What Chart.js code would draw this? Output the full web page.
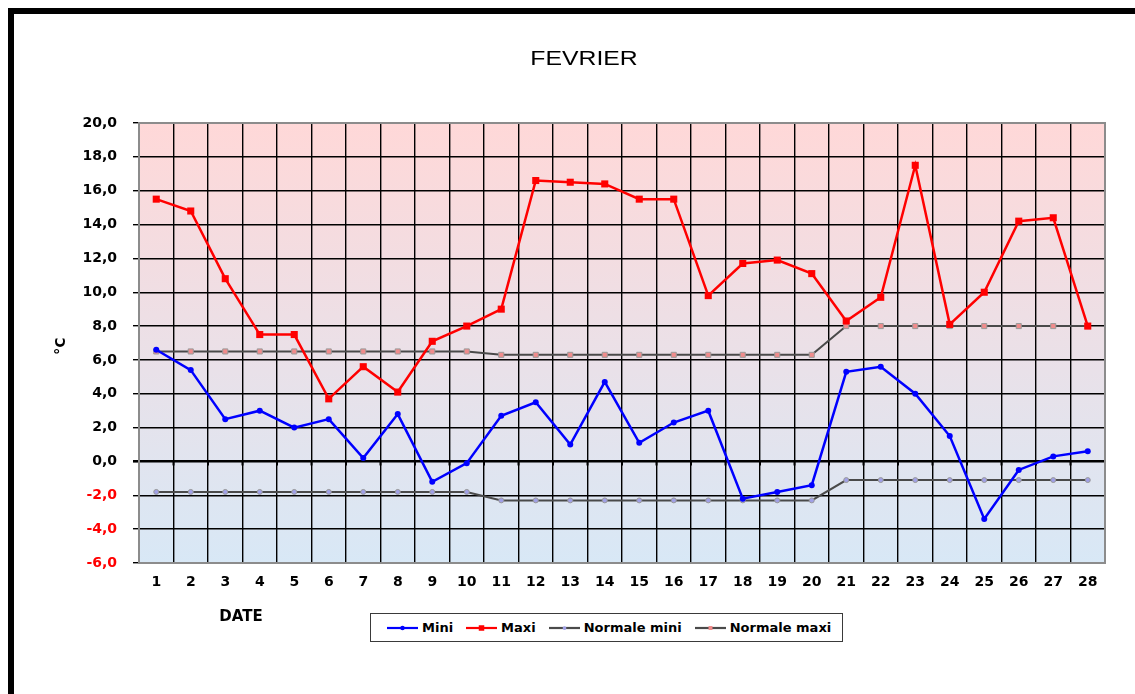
<!DOCTYPE html>
<html>
<head>
<meta charset="utf-8">
<script src="https://cdn.jsdelivr.net/npm/chart.js@4.4.1/dist/chart.umd.min.js"></script>
<style>
html,body{margin:0;padding:0;background:#fff;}
#wrap{position:relative;width:1135px;height:694px;overflow:hidden;background:#fff;}
#frame{position:absolute;left:8px;top:8px;width:1300px;height:900px;border-left:6px solid #000;border-top:6px solid #000;}
#c{position:absolute;left:0;top:0;}
#legend{position:absolute;left:370px;top:613px;width:473px;height:29px;border:1.5px solid #3a3a3a;background:#fff;display:flex;align-items:center;padding-left:16px;box-sizing:border-box;font:bold 13px "DejaVu Sans",sans-serif;color:#000;}
#legend .it{display:flex;align-items:center;margin-right:13px;white-space:nowrap;}
#legend svg{margin-right:4px;}
</style>
</head>
<body>
<div id="wrap">
  <div id="frame"></div>
  <canvas id="c" width="1135" height="694"></canvas>
  <div id="legend"></div>
</div>
<script>
const title = "FEVRIER";
const xTitle = "DATE";
const yTitle = "°C";
const days = ["1","2","3","4","5","6","7","8","9","10","11","12","13","14","15","16","17","18","19","20","21","22","23","24","25","26","27","28"];
const mini = [6.6,5.4,2.5,3.0,2.0,2.5,0.2,2.8,-1.2,-0.1,2.7,3.5,1.0,4.7,1.1,2.3,3.0,-2.2,-1.8,-1.4,5.3,5.6,4.0,1.5,-3.4,-0.5,0.3,0.6];
const maxi = [15.5,14.8,10.8,7.5,7.5,3.7,5.6,4.1,7.1,8.0,9.0,16.6,16.5,16.4,15.5,15.5,9.8,11.7,11.9,11.1,8.3,9.7,17.5,8.1,10.0,14.2,14.4,8.0];
const normaleMini = [-1.8,-1.8,-1.8,-1.8,-1.8,-1.8,-1.8,-1.8,-1.8,-1.8,-2.3,-2.3,-2.3,-2.3,-2.3,-2.3,-2.3,-2.3,-2.3,-2.3,-1.1,-1.1,-1.1,-1.1,-1.1,-1.1,-1.1,-1.1];
const normaleMaxi = [6.5,6.5,6.5,6.5,6.5,6.5,6.5,6.5,6.5,6.5,6.3,6.3,6.3,6.3,6.3,6.3,6.3,6.3,6.3,6.3,8.0,8.0,8.0,8.0,8.0,8.0,8.0,8.0];
const yMin = -6, yMax = 20, yStep = 2;

const datasets = [
  {label:"Mini", data:mini, borderColor:"#0000ff", backgroundColor:"#0000ff", borderWidth:2.5, pointStyle:"circle", pointRadius:3, pointBorderWidth:0, order:1},
  {label:"Maxi", data:maxi, borderColor:"#ff0000", backgroundColor:"#ff0000", borderWidth:2.5, pointStyle:"rect", pointRadius:5, pointBorderWidth:0, order:0},
  {label:"Normale mini", data:normaleMini, borderColor:"#4a4a4a", backgroundColor:"#a0a0e6", pointBorderColor:"#9a9a9a", borderWidth:2, pointStyle:"circle", pointRadius:2.5, pointBorderWidth:1, order:3},
  {label:"Normale maxi", data:normaleMaxi, borderColor:"#4a4a4a", backgroundColor:"#f08c8c", pointBorderColor:"#9a9a9a", borderWidth:2, pointStyle:"rect", pointRadius:3.6, pointBorderWidth:1, order:2}
];

const deco = {
  id:"deco",
  beforeDraw(chart){
    const {ctx, chartArea:a} = chart;
    const g = ctx.createLinearGradient(0, a.top, 0, a.bottom);
    g.addColorStop(0, "rgb(255,216,216)");
    g.addColorStop(1, "rgb(216,232,246)");
    ctx.save();
    ctx.fillStyle = g;
    ctx.fillRect(a.left, a.top, a.right - a.left, a.bottom - a.top);
    ctx.restore();
  },
  beforeDatasetsDraw(chart){
    const {ctx, chartArea:a, scales} = chart;
    ctx.save();
    const y0 = scales.y.getPixelForValue(0);
    ctx.strokeStyle = "#000"; ctx.lineWidth = 2;
    for (let i = 0; i <= days.length; i++) {
      const x = a.left + (a.right - a.left) * i / days.length;
      ctx.beginPath(); ctx.moveTo(x, y0); ctx.lineTo(x, y0 + 4); ctx.stroke();
    }
    ctx.strokeStyle = "#8c8c8c"; ctx.lineWidth = 2;
    ctx.strokeRect(a.left, a.top, a.right - a.left, a.bottom - a.top);
    ctx.restore();
  },
  afterDraw(chart){
    const {ctx} = chart;
    ctx.save();
    ctx.fillStyle = "#000";
    ctx.textAlign = "center"; ctx.textBaseline = "middle";
    ctx.save();
    ctx.translate(584, 59); ctx.scale(1.18, 1);
    ctx.font = '21px "Liberation Sans", Arial, sans-serif';
    ctx.fillText(title, 0, 0);
    ctx.restore();
    ctx.font = 'bold 15px "DejaVu Sans", sans-serif';
    ctx.fillText(xTitle, 241, 617);
    ctx.save();
    ctx.translate(61, 346); ctx.rotate(-Math.PI/2);
    ctx.font = 'bold 14px "DejaVu Sans", sans-serif';
    ctx.fillText(yTitle, 0, 0);
    ctx.restore();
    ctx.restore();
  }
};

const tickFont = {family:'"DejaVu Sans", sans-serif', size:14, weight:"bold"};

new Chart(document.getElementById("c"), {
  type:"line",
  data:{labels:days, datasets:datasets},
  options:{
    responsive:false, animation:false, devicePixelRatio:1,
    layout:{padding:{left:0, top:123, right:30, bottom:0}},
    elements:{line:{tension:0}},
    plugins:{legend:{display:false}, title:{display:false}, tooltip:{enabled:false}},
    scales:{
      x:{
        offset:true,
        grid:{offset:true, color:"#000", lineWidth:1.4, drawTicks:false},
        border:{display:false},
        ticks:{font:tickFont, color:"#000", padding:11, maxRotation:0, autoSkip:false},
        afterFit(s){ s.height = 131; }
      },
      y:{
        min:yMin, max:yMax,
        grid:{
          color:"#000",
          lineWidth:(c)=> c.tick && c.tick.value === 0 ? 2.6 : 1.4,
          tickLength:6
        },
        border:{display:false},
        ticks:{
          stepSize:yStep, font:tickFont, padding:16,
          color:(c)=> c.tick.value < 0 ? "#ff0000" : "#000",
          callback:(v)=> Number(v).toFixed(1).replace(".", ",")
        },
        afterFit(s){ s.width = 139; }
      }
    }
  },
  plugins:[deco]
});

const leg = document.getElementById("legend");
datasets.forEach(d => {
  const it = document.createElement("div"); it.className = "it";
  const ns = "http://www.w3.org/2000/svg";
  const svg = document.createElementNS(ns, "svg");
  svg.setAttribute("width", "31"); svg.setAttribute("height", "10");
  const ln = document.createElementNS(ns, "line");
  ln.setAttribute("x1","0"); ln.setAttribute("x2","31"); ln.setAttribute("y1","5"); ln.setAttribute("y2","5");
  ln.setAttribute("stroke", d.borderColor); ln.setAttribute("stroke-width", "2.2");
  svg.appendChild(ln);
  let m;
  if (d.pointStyle === "rect") {
    m = document.createElementNS(ns, "rect");
    const s = d.pointRadius * 1.1;
    m.setAttribute("x", 15.5 - s/2); m.setAttribute("y", 5 - s/2); m.setAttribute("width", s); m.setAttribute("height", s);
  } else {
    m = document.createElementNS(ns, "circle");
    m.setAttribute("cx","15.5"); m.setAttribute("cy","5"); m.setAttribute("r", d.pointRadius * 0.75);
  }
  m.setAttribute("fill", d.backgroundColor);
  svg.appendChild(m);
  const sp = document.createElement("span"); sp.textContent = d.label;
  it.appendChild(svg); it.appendChild(sp);
  leg.appendChild(it);
});
</script>
</body>
</html>
